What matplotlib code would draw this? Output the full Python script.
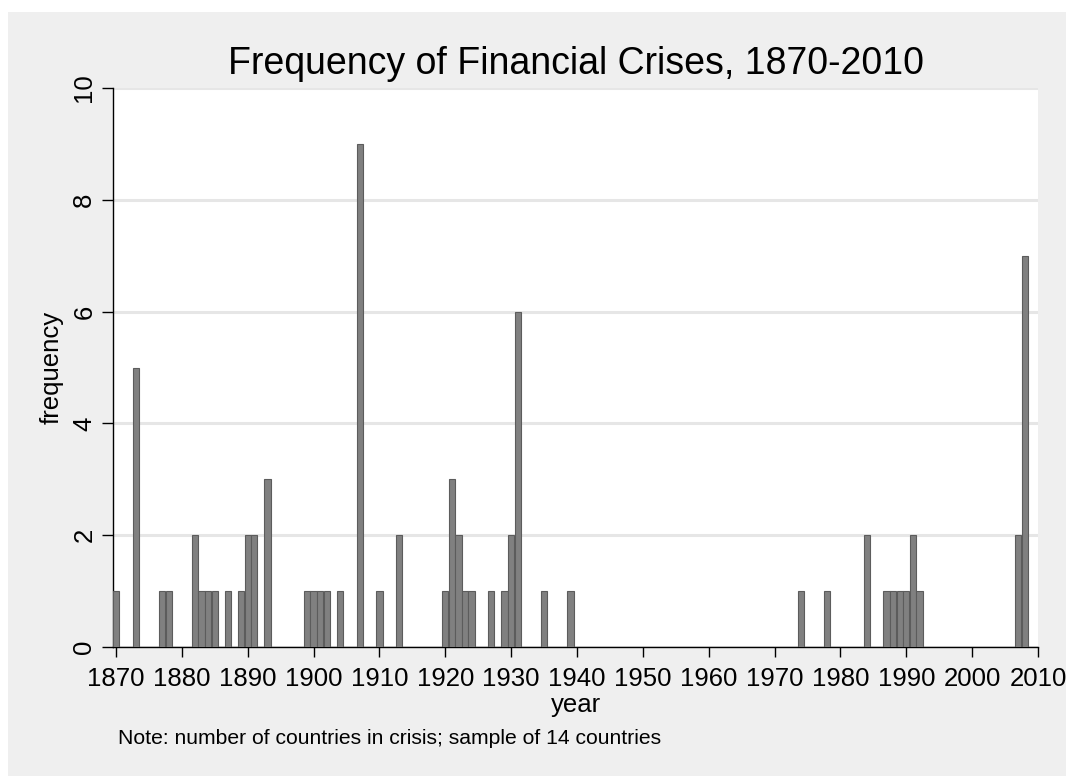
import matplotlib
matplotlib.use("Agg")
import matplotlib.pyplot as plt
from matplotlib.patches import Rectangle

years = [1870, 1873, 1877, 1878, 1882, 1883, 1884, 1885, 1887, 1889, 1890, 1891, 1893,
         1899, 1900, 1901, 1902, 1904, 1907, 1910, 1913,
         1920, 1921, 1922, 1923, 1924, 1927, 1929, 1930, 1931, 1935, 1939,
         1974, 1978, 1984, 1987, 1988, 1989, 1990, 1991, 1992, 2007, 2008]
freq = [1, 5, 1, 1, 2, 1, 1, 1, 1, 1, 2, 2, 3,
        1, 1, 1, 1, 1, 9, 1, 2,
        1, 3, 2, 1, 1, 1, 1, 2, 6, 1, 1,
        1, 1, 2, 1, 1, 1, 1, 2, 1, 2, 7]
xticks = list(range(1870, 2011, 10))
yticks = [0, 2, 4, 6, 8, 10]

plt.rcParams['font.family'] = ['Liberation Sans', 'DejaVu Sans']

W, H = 1072, 776
fig = plt.figure(figsize=(W / 100, H / 100), dpi=100, facecolor='white')
fig.patches.append(Rectangle((8 / W, 0), (1066 - 8) / W, (776 - 12) / H,
                             transform=fig.transFigure, facecolor='#efefef',
                             edgecolor='none', zorder=-10))

ax = fig.add_axes([113 / W, 129 / H, (1038 - 113) / W, (647 - 88) / H])
ax.set_facecolor('white')
ax.bar(years, freq, width=0.95, color='#808080', edgecolor='#5c5c5c', linewidth=0.8, zorder=3)
ax.set_xlim(1869.55, 2010)
ax.set_ylim(0, 10)
ax.set_xticks(xticks)
ax.set_yticks(yticks)
ax.yaxis.grid(True, color='#e6e6e6', linewidth=2.2, zorder=0)
ax.set_axisbelow(True)
for s in ['top', 'right']:
    ax.spines[s].set_visible(False)
for s in ['left', 'bottom']:
    ax.spines[s].set_linewidth(1.0)
    ax.spines[s].set_color('black')
ax.tick_params(axis='both', direction='out', length=8, width=1.0, labelsize=18.5, pad=4)
ax.tick_params(axis='x', length=7.5, pad=7)
for lab in ax.get_yticklabels():
    lab.set_rotation(90)
    lab.set_va('center')
ax.set_xlabel('year', fontsize=18.5, labelpad=1.0)
ax.set_ylabel('frequency', fontsize=18.5, labelpad=6)
ax.set_title('Frequency of Financial Crises, 1870-2010', fontsize=27, pad=10)
fig.text(118 / W, 1 - 738 / H, 'Note: number of countries in crisis; sample of 14 countries',
         fontsize=15.2, va='center', ha='left')

fig.savefig('out.png', dpi=100, facecolor='white')
